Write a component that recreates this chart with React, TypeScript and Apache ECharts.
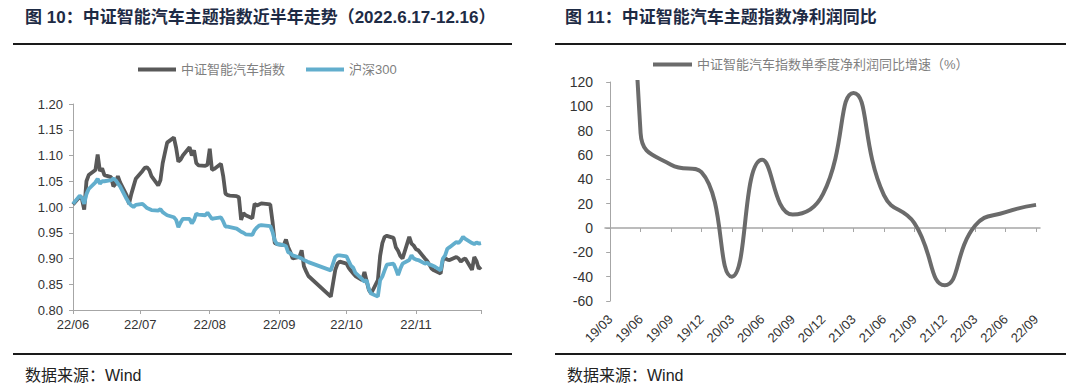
import React, { useEffect, useRef } from "react";
import * as echarts from "echarts";

// ---------- Left chart data (trading days 2022-06-17 .. 2022-12-16) ----------
const tradeDates: string[] = [
  "2022-06-17", "2022-06-20", "2022-06-21", "2022-06-22", "2022-06-23", "2022-06-24", "2022-06-27", "2022-06-28", "2022-06-29", "2022-06-30",
  "2022-07-01", "2022-07-04", "2022-07-05", "2022-07-06", "2022-07-07", "2022-07-08", "2022-07-11", "2022-07-12", "2022-07-13", "2022-07-14", "2022-07-15",
  "2022-07-18", "2022-07-19", "2022-07-20", "2022-07-21", "2022-07-22", "2022-07-25", "2022-07-26", "2022-07-27", "2022-07-28", "2022-07-29",
  "2022-08-01", "2022-08-02", "2022-08-03", "2022-08-04", "2022-08-05", "2022-08-08", "2022-08-09", "2022-08-10", "2022-08-11", "2022-08-12",
  "2022-08-15", "2022-08-16", "2022-08-17", "2022-08-18", "2022-08-19", "2022-08-22", "2022-08-23", "2022-08-24", "2022-08-25", "2022-08-26",
  "2022-08-29", "2022-08-30", "2022-08-31",
  "2022-09-01", "2022-09-02", "2022-09-05", "2022-09-06", "2022-09-07", "2022-09-08", "2022-09-09", "2022-09-13", "2022-09-14", "2022-09-15",
  "2022-09-16", "2022-09-19", "2022-09-20", "2022-09-21", "2022-09-22", "2022-09-23", "2022-09-26", "2022-09-27", "2022-09-28", "2022-09-29", "2022-09-30",
  "2022-10-10", "2022-10-11", "2022-10-12", "2022-10-13", "2022-10-14", "2022-10-17", "2022-10-18", "2022-10-19", "2022-10-20", "2022-10-21",
  "2022-10-24", "2022-10-25", "2022-10-26", "2022-10-27", "2022-10-28", "2022-10-31",
  "2022-11-01", "2022-11-02", "2022-11-03", "2022-11-04", "2022-11-07", "2022-11-08", "2022-11-09", "2022-11-10", "2022-11-11", "2022-11-14",
  "2022-11-15", "2022-11-16", "2022-11-17", "2022-11-18", "2022-11-21", "2022-11-22", "2022-11-23", "2022-11-24", "2022-11-25", "2022-11-28",
  "2022-11-29", "2022-11-30",
  "2022-12-01", "2022-12-02", "2022-12-05", "2022-12-06", "2022-12-07", "2022-12-08", "2022-12-09", "2022-12-12", "2022-12-13", "2022-12-14",
  "2022-12-15", "2022-12-16",
];

const smartCarIndex: number[] = [
  1.005, 1.020, 1.015, 0.995, 1.050, 1.062, 1.072, 1.102, 1.070, 1.075,
  1.062, 1.058, 1.040, 1.045, 1.060, 1.048, 1.022, 1.006, 1.025, 1.040, 1.055,
  1.070, 1.076, 1.077, 1.072, 1.060, 1.042, 1.052, 1.085, 1.105, 1.125,
  1.135, 1.115, 1.088, 1.092, 1.100, 1.116, 1.100, 1.110, 1.085, 1.081,
  1.080, 1.082, 1.113, 1.072, 1.074, 1.084, 1.060, 1.026, 1.023, 1.022,
  1.021, 1.019, 0.975,
  0.988, 0.984, 0.978, 1.006, 1.003, 1.005, 1.007, 1.005, 0.972, 0.930,
  0.928, 0.926, 0.937, 0.922, 0.912, 0.900, 0.903, 0.916, 0.885, 0.875, 0.866,
  0.826, 0.852, 0.878, 0.890, 0.894, 0.890, 0.882, 0.876, 0.871, 0.866,
  0.858, 0.874, 0.856, 0.839, 0.832, 0.858,
  0.905, 0.930, 0.942, 0.944, 0.940, 0.922, 0.915, 0.905, 0.900, 0.942,
  0.929, 0.925, 0.918, 0.916, 0.900, 0.895, 0.888, 0.880, 0.877, 0.871,
  0.898, 0.900,
  0.898, 0.897, 0.903, 0.900, 0.894, 0.898, 0.900, 0.878, 0.903, 0.895,
  0.880, 0.884,
];

const hs300: number[] = [
  1.006, 1.022, 1.018, 1.006, 1.025, 1.035, 1.048, 1.055, 1.045, 1.050,
  1.050, 1.052, 1.055, 1.052, 1.046, 1.040, 1.015, 1.008, 1.003, 1.000, 1.004,
  1.006, 1.002, 0.998, 0.996, 0.994, 0.993, 0.996, 0.990, 0.987, 0.984,
  0.980, 0.975, 0.961, 0.970, 0.977, 0.977, 0.968, 0.975, 0.987, 0.985,
  0.984, 0.989, 0.983, 0.977, 0.978, 0.980, 0.972, 0.962, 0.962, 0.961,
  0.958, 0.955, 0.952,
  0.950, 0.947, 0.946, 0.955, 0.960, 0.964, 0.965, 0.963, 0.952, 0.935,
  0.928, 0.926, 0.924, 0.912, 0.910, 0.906, 0.902, 0.900, 0.897, 0.895, 0.893,
  0.877, 0.890, 0.903, 0.906, 0.906, 0.904, 0.895, 0.886, 0.882, 0.872,
  0.860, 0.855, 0.858, 0.840, 0.832, 0.826,
  0.858, 0.865, 0.877, 0.888, 0.890, 0.880, 0.868, 0.880, 0.890, 0.897,
  0.906, 0.900, 0.898, 0.897, 0.890, 0.892, 0.888, 0.887, 0.885, 0.877,
  0.900, 0.906,
  0.919, 0.922, 0.932, 0.930, 0.935, 0.942, 0.938, 0.930, 0.928, 0.931,
  0.929, 0.930,
];

const leftTickDates: string[] = ["2022-06-17", "2022-07-17", "2022-08-17", "2022-09-17", "2022-10-17", "2022-11-17"];
const leftTickLabels: string[] = ["22/06", "22/07", "22/08", "22/09", "22/10", "22/11"];

// ---------- Right chart data ----------
const quarters: string[] = [
  "19/03", "19/06", "19/09", "19/12", "20/03", "20/06", "20/09", "20/12",
  "21/03", "21/06", "21/09", "21/12", "22/03", "22/06", "22/09",
];
const profitYoY: number[] = [880, 78, 52, 46, -40, 56, 11, 28, 111, 27, 4, -47, 2, 13, 19];

const leftTitle = "图 10：中证智能汽车主题指数近半年走势（2022.6.17-12.16）";
const rightTitle = "图 11：中证智能汽车主题指数净利润同比";
const sourceText = "数据来源：Wind";
const seriesNames = ["中证智能汽车指数", "沪深300", "中证智能汽车指数单季度净利润同比增速（%）"];

const FONT = '"Liberation Sans", Arial, "Noto Sans CJK SC", sans-serif';
const DAY = 86400000;

function ts(s: string): number {
  const [y, m, d] = s.split("-").map(Number);
  return Date.UTC(y, m - 1, d);
}

export default function App() {
  const ref = useRef<HTMLDivElement>(null);

  useEffect(() => {
    if (!ref.current) return;
    const chart = echarts.init(ref.current, undefined, { renderer: "svg" });

    const t0 = ts(tradeDates[0]);
    const dayOf = (s: string) => Math.round((ts(s) - t0) / DAY);
    const days = tradeDates.map(dayOf);
    const tickDays = leftTickDates.map(dayOf);
    const endDay = days[days.length - 1];
    const axisColor = "#a6a6a6";
    const quarterIdx = quarters.map((_, i) => i);

    const option: any = {
      animation: false,
      backgroundColor: "#ffffff",
      textStyle: { fontFamily: FONT },
      legend: [
        {
          left: 133,
          top: 58,
          icon: "rect",
          itemWidth: 38,
          itemHeight: 4,
          itemGap: 21,
          data: [seriesNames[0], seriesNames[1]],
          textStyle: { fontSize: 13, color: "#7f7f7f", fontFamily: FONT },
          selectedMode: false,
        },
        {
          left: 648,
          top: 53,
          icon: "rect",
          itemWidth: 39,
          itemHeight: 4,
          data: [seriesNames[2]],
          textStyle: { fontSize: 13, color: "#7f7f7f", fontFamily: FONT },
          selectedMode: false,
        },
      ],
      grid: [
        { left: 73, top: 104, width: 408, height: 206 },
        { left: 605, top: 82, width: 435, height: 219 },
      ],
      xAxis: [
        {
          type: "value",
          gridIndex: 0,
          min: 0,
          max: endDay,
          axisLine: { show: true, onZero: false, lineStyle: { color: axisColor, width: 1 } },
          axisTick: { show: true, length: 4, lineStyle: { color: axisColor }, customValues: [...tickDays, endDay] },
          axisLabel: {
            customValues: tickDays,
            fontSize: 13,
            color: "#333",
            margin: 8,
            fontFamily: FONT,
            formatter: (v: number) => {
              const i = tickDays.indexOf(Math.round(v));
              return i >= 0 ? leftTickLabels[i] : "";
            },
          },
          splitLine: { show: false },
        },
        {
          type: "value",
          gridIndex: 1,
          position: "bottom",
          min: -0.17,
          max: 14.13,
          axisLine: { show: false, onZero: false },
          axisTick: { show: false },
          axisLabel: {
            customValues: quarterIdx,
            rotate: 45,
            fontSize: 13,
            color: "#333",
            margin: 16,
            fontFamily: FONT,
            formatter: (v: number) => quarters[Math.round(v)] ?? "",
          },
          splitLine: { show: false },
        },
        {
          type: "value",
          gridIndex: 1,
          position: "bottom",
          min: -0.17,
          max: 14.13,
          axisLine: { show: true, onZero: true, lineStyle: { color: axisColor, width: 1.5 } },
          axisTick: { show: true, length: 4, lineStyle: { color: axisColor }, customValues: quarterIdx },
          axisLabel: { show: false },
          splitLine: { show: false },
        },
      ],
      yAxis: [
        {
          type: "value",
          gridIndex: 0,
          min: 0.8,
          max: 1.2,
          interval: 0.05,
          axisLine: { show: true, lineStyle: { color: axisColor, width: 1 } },
          axisTick: { show: true, length: 4, lineStyle: { color: axisColor } },
          axisLabel: { fontSize: 13, color: "#333", margin: 10, fontFamily: FONT, formatter: (v: number) => v.toFixed(2) },
          splitLine: { show: false },
        },
        {
          type: "value",
          gridIndex: 1,
          min: -60,
          max: 120,
          interval: 20,
          axisLine: { show: true, lineStyle: { color: axisColor, width: 1 } },
          axisTick: { show: true, length: 4, lineStyle: { color: axisColor } },
          axisLabel: { fontSize: 14, color: "#333", margin: 12, fontFamily: FONT },
          splitLine: { show: false },
        },
      ],
      series: [
        {
          name: seriesNames[0],
          type: "line",
          xAxisIndex: 0,
          yAxisIndex: 0,
          color: "#595959",
          showSymbol: false,
          lineStyle: { color: "#595959", width: 3.8 },
          data: days.map((d, i) => [d, smartCarIndex[i]]),
        },
        {
          name: seriesNames[1],
          type: "line",
          xAxisIndex: 0,
          yAxisIndex: 0,
          color: "#62AECD",
          showSymbol: false,
          lineStyle: { color: "#62AECD", width: 3.8 },
          data: days.map((d, i) => [d, hs300[i]]),
        },
        {
          name: seriesNames[2],
          type: "line",
          xAxisIndex: 1,
          yAxisIndex: 1,
          color: "#6b6b6b",
          showSymbol: false,
          smooth: 0.5,
          clip: true,
          lineStyle: { color: "#6b6b6b", width: 4 },
          data: quarterIdx.map((i) => [i, profitYoY[i]]),
        },
      ],
      graphic: [
        {
          type: "text",
          x: 25,
          y: 17,
          style: { text: leftTitle, font: `bold 17px ${FONT}`, fill: "#1e2b45", verticalAlign: "middle" },
        },
        {
          type: "text",
          x: 565,
          y: 17,
          style: { text: rightTitle, font: `bold 17px ${FONT}`, fill: "#1e2b45", verticalAlign: "middle" },
        },
        { type: "rect", shape: { x: 13, y: 43, width: 499, height: 2 }, style: { fill: "#1a1a1a" } },
        { type: "rect", shape: { x: 555, y: 43, width: 511, height: 2 }, style: { fill: "#1a1a1a" } },
        { type: "rect", shape: { x: 13, y: 353, width: 499, height: 2 }, style: { fill: "#1a1a1a" } },
        { type: "rect", shape: { x: 555, y: 353, width: 511, height: 2 }, style: { fill: "#1a1a1a" } },
        {
          type: "text",
          x: 25,
          y: 375,
          style: { text: sourceText, font: `16px ${FONT}`, fill: "#222", verticalAlign: "middle" },
        },
        {
          type: "text",
          x: 567,
          y: 375,
          style: { text: sourceText, font: `16px ${FONT}`, fill: "#222", verticalAlign: "middle" },
        },
      ],
    };

    chart.setOption(option);
    return () => chart.dispose();
  }, []);

  return (
    <div
      ref={ref}
      style={{ position: "absolute", left: 0, top: 0, width: 1080, height: 387, background: "#fff" }}
    />
  );
}
